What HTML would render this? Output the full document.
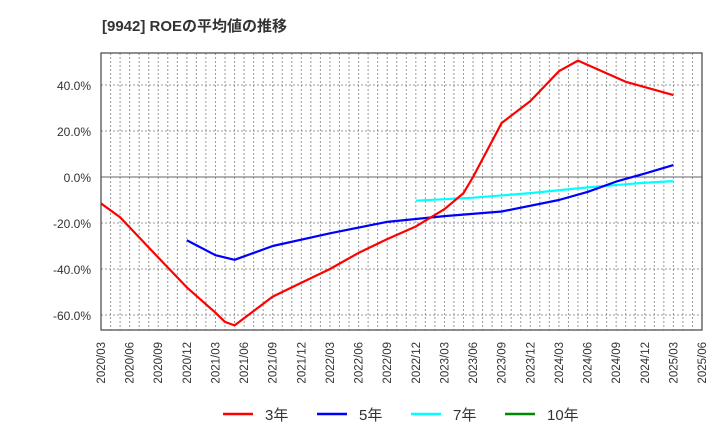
<!DOCTYPE html>
<html><head><meta charset="utf-8"><style>
body{margin:0;background:#fff;font-family:"Liberation Sans","Noto Sans CJK JP",sans-serif;}
svg text{font-family:"Liberation Sans","Noto Sans CJK JP",sans-serif;}
</style></head><body>
<svg id="chart" width="720" height="440" xmlns="http://www.w3.org/2000/svg">
<text x="102" y="31" font-size="15" font-weight="bold" fill="#333">[9942]  ROEの平均値の推移</text>
<g id="grid"></g><g id="series"></g><g id="axes"></g>
<g font-size="15" fill="#333">
<line x1="223" y1="414" x2="253" y2="414" stroke="#f00" stroke-width="2.5"/><text x="265" y="420">3年</text>
<line x1="317" y1="414" x2="347" y2="414" stroke="#00f" stroke-width="2.5"/><text x="359" y="420">5年</text>
<line x1="411" y1="414" x2="441" y2="414" stroke="#0ff" stroke-width="2.5"/><text x="453" y="420">7年</text>
<line x1="505" y1="414" x2="535" y2="414" stroke="#080" stroke-width="2.5"/><text x="547" y="420">10年</text>
</g>
</svg>
<script>
const tickLabels=["2020/03","2020/06","2020/09","2020/12","2021/03","2021/06","2021/09","2021/12","2022/03","2022/06","2022/09","2022/12","2023/03","2023/06","2023/09","2023/12","2024/03","2024/06","2024/09","2024/12","2025/03","2025/06"];
const yTicks=[40,20,0,-20,-40,-60];
const red3Dates=["2020/03","2020/05","2020/09","2020/12","2021/03","2021/04","2021/05","2021/09","2021/12","2022/03","2022/06","2022/09","2022/12","2023/03","2023/05","2023/06","2023/09","2023/12","2024/03","2024/05","2024/10","2025/03"];
const red3Values=[-11.5,-17.5,-35,-48,-59,-63,-64.5,-52,-46,-40,-33,-27,-21.5,-14,-7,0,23.5,33,46,50.6,41.4,35.6];
const blue5Dates=["2020/12","2021/03","2021/05","2021/09","2022/03","2022/09","2023/03","2023/09","2024/03","2024/06","2024/09","2024/12","2025/03"];
const blue5Values=[-27.5,-34,-36,-30,-24.5,-19.5,-17,-15,-10,-6.5,-2,1.5,5.2];
const cyan7Dates=["2022/12","2023/06","2023/12","2024/06","2024/12","2025/03"];
const cyan7Values=[-10.3,-9,-7,-4.5,-2.5,-1.8];
const X0=101,X1=702,Y0=53,Y1=330;
function mIdx(s){const [y,m]=s.split('/').map(Number);return (y-2020)*12+(m-3);}
function xs(s){return X0+mIdx(s)*(X1-X0)/63;}
function ys(v){return 177-v*2.3;}
const NS="http://www.w3.org/2000/svg";
function mk(t,a,p){const e=document.createElementNS(NS,t);for(const k in a)e.setAttribute(k,a[k]);p.appendChild(e);return e;}
const grid=document.getElementById('grid'),axes=document.getElementById('axes'),ser=document.getElementById('series');
for(let i=1;i<63;i++){const x=X0+i*(X1-X0)/63;
const l=mk('line',{x1:x,y1:Y0,x2:x,y2:Y1,stroke:'#999','stroke-dasharray':'2,2','stroke-width':1},grid);
}
yTicks.forEach(v=>{const y=ys(v);
const l=mk('line',{x1:X0,y1:y,x2:X1,y2:y,stroke:v===0?'#666':'#999','stroke-dasharray':v===0?'none':'2,2','stroke-width':1},grid);

const t=mk('text',{x:X0-10,y:y+5,'text-anchor':'end','font-size':12,fill:'#333'},axes);t.textContent=v.toFixed(1)+'%';
});
tickLabels.forEach(s=>{const x=xs(s);
const t=mk('text',{transform:`translate(${x+4},342) rotate(-90)`,'text-anchor':'end','font-size':11.5,fill:'#333'},axes);t.textContent=s;
});
const fr=mk('rect',{x:X0,y:Y0,width:X1-X0,height:Y1-Y0,fill:'none',stroke:'#444','stroke-width':1.2},axes);

function line(d,v,c,n){const p=mk('polyline',{points:d.map((s,i)=>xs(s)+','+ys(v[i])).join(' '),fill:'none',stroke:c,'stroke-width':2.2,'stroke-linejoin':'round'},ser);
}
line(cyan7Dates,cyan7Values,'#0ff','line-7y');
line(blue5Dates,blue5Values,'#00f','line-5y');
line(red3Dates,red3Values,'#f00','line-3y');
</script>
</body></html>
